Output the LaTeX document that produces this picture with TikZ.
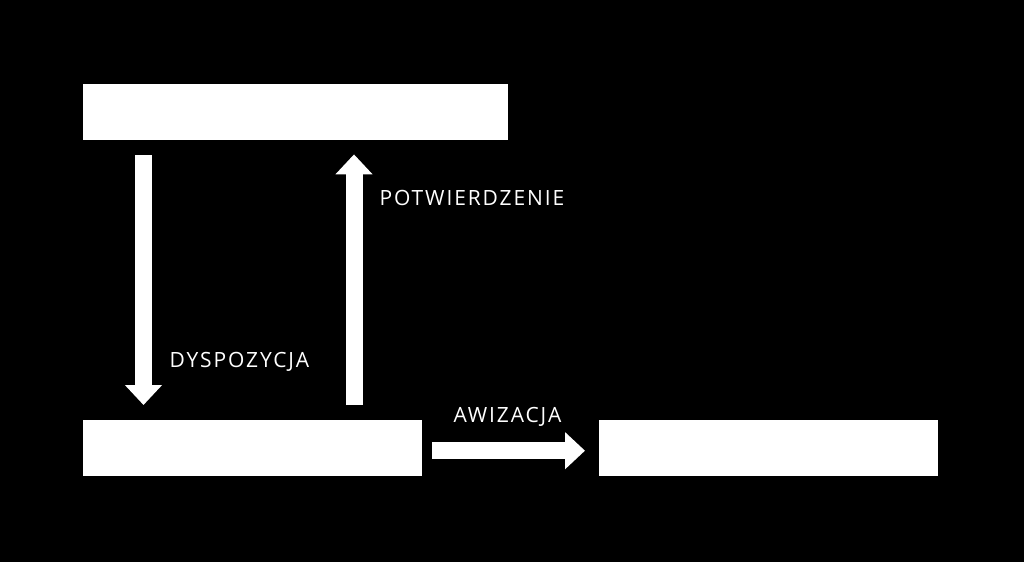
\documentclass[tikz,border=0pt]{standalone}
\usepackage{fontspec}
\usepackage{tikz}
\usetikzlibrary{arrows.meta,positioning}
\newfontfamily\labelfont[LetterSpace=9]{Open Sans}
\definecolor{bg}{HTML}{000000}
\definecolor{paper}{HTML}{FFFFFF}
\tikzset{
  block/.style={fill=paper,draw=none,inner sep=0pt,anchor=north west,minimum height=56pt},
  flow/.style={-{Triangle[length=20pt,width=36pt]},line width=17pt,color=paper},
  tag/.style={text=paper,anchor=west,font=\labelfont\fontsize{21}{24}\selectfont},
}

\begin{document}
\begin{tikzpicture}[x=1pt,y=-1pt]
  \fill[bg] (0,0) rectangle (1024,562);
  \useasboundingbox (0,0) rectangle (1024,562);

  \node[block,minimum width=425pt] (top) at (83,84) {};
  \node[block,minimum width=339pt] (left) at (83,420) {};
  \node[block,minimum width=339pt] (right) at (599,420) {};

  \draw[flow,shorten <=15pt,shorten >=15pt]
    ([xshift=60.5pt]top.south west) -- ([xshift=60.5pt]left.north west);
  \draw[flow,shorten <=15pt,shorten >=14pt]
    ([xshift=271pt]left.north west) -- ([xshift=271pt]top.south west);
  \draw[flow,shorten <=10pt,shorten >=14pt]
    ([yshift=-2.5pt]left.east) -- ([yshift=-2.5pt]right.west);

  \node[tag] (dysp) at (166,362) {DYSPOZYCJA};
  \node[tag] (potw) at (376,198) {POTWIERDZENIE};
  \node[tag] (awiz) at (450,417) {AWIZACJA};
\end{tikzpicture}
\end{document}
